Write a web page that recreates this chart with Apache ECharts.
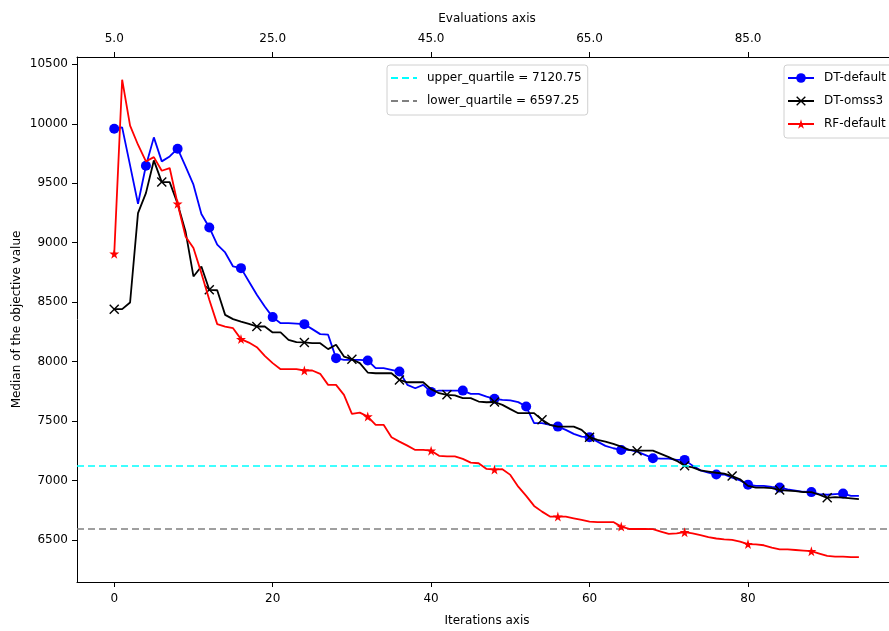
<!DOCTYPE html>
<html><head><meta charset="utf-8">
<script src="https://cdn.jsdelivr.net/npm/echarts@6/dist/echarts.min.js"></script>
<style>html,body{margin:0;padding:0;background:#fff}#c{width:889px;height:631px}</style>
</head><body><div id="c"></div>
<script>
// ---- data ----
const iterTicks = [0, 20, 40, 60, 80];
const evalTickLabels = ['5.0', '25.0', '45.0', '65.0', '85.0'];
const yTicks = [6500, 7000, 7500, 8000, 8500, 9000, 9500, 10000, 10500];
const upperQuartile = 7120.75;
const lowerQuartile = 6597.25;

const dtDefault = [
  9959, 9970, 9650, 9328, 9647, 9886, 9684, 9726, 9791, 9642,
  9488, 9241, 9128, 8983, 8918, 8800, 8786, 8674, 8562, 8463,
  8374, 8323, 8323, 8320, 8315, 8273, 8231, 8226, 8029, 8015,
  8015, 8015, 8009, 7945, 7945, 7931, 7916, 7804, 7776, 7804,
  7745, 7756, 7756, 7756, 7756, 7729, 7729, 7706, 7687, 7678,
  7673, 7659, 7622, 7482, 7482, 7468, 7453, 7426, 7392, 7369,
  7364, 7327, 7291, 7271, 7257, 7257, 7243, 7215, 7187, 7183,
  7183, 7174, 7173, 7125, 7085, 7065, 7050, 7050, 7023, 7000,
  6965, 6955, 6955, 6947, 6940, 6925, 6915, 6905, 6902, 6885,
  6880, 6885, 6890, 6870, 6870
];
const dtOmss3 = [
  8441, 8441, 8497, 9249, 9417, 9692, 9510, 9510, 9328, 9095,
  8716, 8800, 8604, 8600, 8393, 8357, 8337, 8318, 8295, 8295,
  8245, 8245, 8183, 8164, 8161, 8155, 8155, 8105, 8141, 8042,
  8020, 7987, 7908, 7902, 7902, 7902, 7846, 7826, 7826, 7826,
  7768, 7734, 7720, 7715, 7692, 7692, 7664, 7658, 7660, 7636,
  7600, 7566, 7566, 7566, 7510, 7468, 7453, 7453, 7453, 7426,
  7364, 7342, 7327, 7308, 7285, 7257, 7251, 7251, 7251, 7224,
  7196, 7165, 7123, 7110, 7085, 7075, 7065, 7058, 7037, 7010,
  6955, 6940, 6940, 6935, 6919, 6915, 6910, 6902, 6902, 6880,
  6854, 6860, 6855, 6850, 6843
];
const rfDefault = [
  8907, 10371, 9984, 9824, 9684, 9720, 9605, 9628, 9328, 9053,
  8955, 8744, 8520, 8315, 8295, 8281, 8189, 8160, 8121, 8048,
  7987, 7936, 7936, 7936, 7925, 7925, 7897, 7804, 7804, 7720,
  7560, 7571, 7538, 7468, 7468, 7364, 7327, 7293, 7257, 7257,
  7251, 7207, 7202, 7202, 7182, 7150, 7145, 7097, 7092, 7095,
  7047, 6948, 6870, 6786, 6738, 6696, 6696, 6696, 6682, 6668,
  6654, 6650, 6650, 6650, 6612, 6592, 6592, 6592, 6590, 6570,
  6550, 6555, 6565, 6555, 6540, 6523, 6512, 6505, 6500, 6485,
  6465, 6462, 6455, 6435, 6420, 6420, 6415, 6410, 6405, 6385,
  6365, 6360, 6360, 6355, 6355
];

// ---- build ----
const FONT = 'DejaVu Sans';
const FS = 12;
const starPath = 'path://M50,0 L61,35 L98,35 L68,57 L79,91 L50,70 L21,91 L32,57 L2,35 L39,35 Z';
const xPath = 'path://M0,1 L1,0 L5,4 L9,0 L10,1 L6,5 L10,9 L9,10 L5,6 L1,10 L0,9 L4,5 Z';

function withMarkers(vals, every) {
  return vals.map((v, i) => (i % every === 0) ? { value: [i, v] } : { value: [i, v], symbol: 'none' });
}
const upperName = 'upper_quartile = ' + upperQuartile;
const lowerName = 'lower_quartile = ' + lowerQuartile;

const xMin = -4.7, xMax = 97.8;
const axisLineStyle = { color: '#000', width: 1 };
const labelStyle = { color: '#000', fontFamily: FONT, fontSize: FS };

const legendCommon = {
  orient: 'vertical',
  itemWidth: 26,
  itemHeight: 12,
  itemGap: 11,
  backgroundColor: '#fff',
  borderColor: '#d0d0d0',
  borderWidth: 1,
  borderRadius: 3,
  textStyle: { color: '#000', fontFamily: FONT, fontSize: FS, padding: [0, 0, 0, 5] },
  selectedMode: false
};

const option = {
  animation: false,
  backgroundColor: '#fff',
  grid: { left: 77, right: 0, top: 57, bottom: 49, containLabel: false, outerBoundsMode: 'none' },
  legend: [
    Object.assign({}, legendCommon, {
      data: [
        { name: upperName, itemStyle: { opacity: 0 } },
        { name: lowerName, itemStyle: { opacity: 0 } }
      ],
      left: 387, top: 65, padding: [7, 6, 8, 3]
    }),
    Object.assign({}, legendCommon, {
      data: ['DT-default', 'DT-omss3', 'RF-default'],
      left: 784, top: 65, padding: [7, 6, 8, 3]
    })
  ],
  xAxis: [
    {
      type: 'value', position: 'bottom', min: xMin, max: xMax,
      name: 'Iterations axis', nameLocation: 'middle', nameGap: 33,
      nameTextStyle: { color: '#000', fontFamily: FONT, fontSize: FS, padding: [0, 0, 0, 8] },
      axisLine: { show: true, onZero: false, lineStyle: axisLineStyle },
      axisTick: { show: true, length: 5, lineStyle: axisLineStyle, customValues: iterTicks },
      axisLabel: Object.assign({ margin: 11, customValues: iterTicks, formatter: v => String(v) }, labelStyle),
      splitLine: { show: false }
    },
    {
      type: 'value', position: 'top', min: xMin, max: xMax,
      name: 'Evaluations axis', nameLocation: 'middle', nameGap: 32,
      nameTextStyle: { color: '#000', fontFamily: FONT, fontSize: FS, padding: [0, 0, 0, 8] },
      axisLine: { show: true, onZero: false, lineStyle: axisLineStyle },
      axisTick: { show: true, length: 5, lineStyle: axisLineStyle, customValues: iterTicks },
      axisLabel: Object.assign({ margin: 12, customValues: iterTicks,
        formatter: v => evalTickLabels[iterTicks.indexOf(v)] }, labelStyle),
      splitLine: { show: false }
    }
  ],
  yAxis: {
    type: 'value', min: 6146, max: 10562,
    name: 'Median of the objective value', nameLocation: 'middle', nameGap: 54, nameRotate: 90,
    nameMoveOverlap: false,
    nameTextStyle: { color: '#000', fontFamily: FONT, fontSize: FS },
    axisLine: { show: true, onZero: false, lineStyle: axisLineStyle },
    axisTick: { show: true, length: 5, lineStyle: axisLineStyle, customValues: yTicks },
    axisLabel: Object.assign({ margin: 9, customValues: yTicks, formatter: v => String(v) }, labelStyle),
    splitLine: { show: false }
  },
  series: [
    {
      name: 'DT-default', type: 'line', xAxisIndex: 0,
      data: withMarkers(dtDefault, 4),
      symbol: 'circle', symbolSize: 10, showAllSymbol: true,
      lineStyle: { color: '#0000ff', width: 1.8 },
      itemStyle: { color: '#0000ff' },
      z: 3
    },
    {
      name: 'DT-omss3', type: 'line', xAxisIndex: 0,
      data: withMarkers(dtOmss3, 6),
      symbol: xPath, symbolSize: 10, showAllSymbol: true,
      lineStyle: { color: '#000000', width: 1.8 },
      itemStyle: { color: '#000000' },
      z: 4
    },
    {
      name: 'RF-default', type: 'line', xAxisIndex: 0,
      data: withMarkers(rfDefault, 8),
      symbol: starPath, symbolSize: 10, showAllSymbol: true,
      lineStyle: { color: '#ff0000', width: 1.8 },
      itemStyle: { color: '#ff0000' },
      z: 5
    },
    {
      name: upperName, type: 'line', xAxisIndex: 0, data: [], symbol: 'none',
      lineStyle: { color: '#00ffff', width: 1.6, type: [7, 4] },
      itemStyle: { color: '#00ffff' },
      markLine: { silent: true, symbol: 'none', label: { show: false },
        lineStyle: { color: '#00ffff', width: 1.6, type: [7, 4] },
        data: [{ yAxis: upperQuartile }] },
      z: 6
    },
    {
      name: lowerName, type: 'line', xAxisIndex: 0, data: [], symbol: 'none',
      lineStyle: { color: '#808080', width: 1.6, type: [7, 4] },
      itemStyle: { color: '#808080' },
      markLine: { silent: true, symbol: 'none', label: { show: false },
        lineStyle: { color: '#808080', width: 1.6, type: [7, 4] },
        data: [{ yAxis: lowerQuartile }] },
      z: 6
    }
  ]
};

const chart = echarts.init(document.getElementById('c'), null, { renderer: 'canvas' });
chart.setOption(option);
</script>
</body></html>
